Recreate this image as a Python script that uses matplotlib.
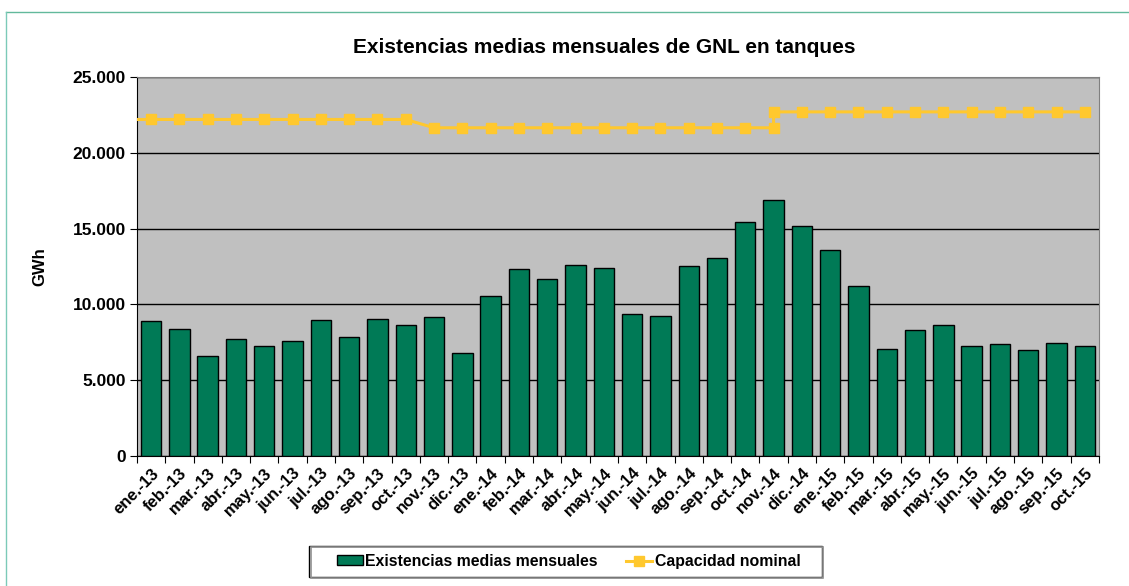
import numpy as np
import matplotlib
matplotlib.use("Agg")
import matplotlib.pyplot as plt
from matplotlib.lines import Line2D
from matplotlib.ticker import FuncFormatter, FixedLocator

plt.rcParams['font.family'] = ['Liberation Sans', 'DejaVu Sans']

# Month labels
months = ['ene.-13', 'feb.-13', 'mar.-13', 'abr.-13', 'may.-13', 'jun.-13',
          'jul.-13', 'ago.-13', 'sep.-13', 'oct.-13', 'nov.-13', 'dic.-13',
          'ene.-14', 'feb.-14', 'mar.-14', 'abr.-14', 'may.-14', 'jun.-14',
          'jul.-14', 'ago.-14', 'sep.-14', 'oct.-14', 'nov.-14', 'dic.-14',
          'ene.-15', 'feb.-15', 'mar.-15', 'abr.-15', 'may.-15', 'jun.-15',
          'jul.-15', 'ago.-15', 'sep.-15', 'oct.-15']

# Average monthly stock (GWh)
existencias = [8920, 8390, 6620, 7730, 7260, 7590, 8990, 7880, 9050, 8610,
               9200, 6800, 10560, 12320, 11700, 12590, 12430, 9340, 9230,
               12540, 13030, 15440, 16920, 15150, 13580, 11220, 7060, 8280,
               8610, 7240, 7410, 6980, 7460, 7260]

# Nominal capacity (GWh); the capacity changes within nov.-14
capacidad = [22200] * 10 + [21650] * 13 + [22700] * 11
cambio_idx = 22          # nov.-14
capacidad_nueva = 22700  # value after the change in nov.-14

fig = plt.figure(figsize=(11.29, 5.86), dpi=100)
ax = fig.add_axes([0.1213, 0.2218, 0.8521, 0.6468])
ax.set_facecolor('#c0c0c0')

x = np.arange(len(months))
bars = ax.bar(x, existencias, width=0.72, color='#007a56', edgecolor='black',
              linewidth=1, zorder=3)

# capacity line, with the extra point for the change in nov.-14
xl = list(x[:cambio_idx + 1]) + [cambio_idx] + list(x[cambio_idx + 1:])
yl = capacidad[:cambio_idx + 1] + [capacidad_nueva] + capacidad[cambio_idx + 1:]
ax.plot([-0.5, 0], [capacidad[0], capacidad[0]], color='#ffc82e', lw=2.2, zorder=4)
line, = ax.plot(xl, yl, color='#ffc82e', lw=2.2, marker='s', markersize=6.5, zorder=4)

ax.set_xlim(-0.5, len(months) - 0.5)
ax.set_ylim(0, 25000)
ax.set_yticks(range(0, 25001, 5000))
ax.yaxis.set_major_formatter(FuncFormatter(lambda v, p: f'{int(v):,}'.replace(',', '.')))
ax.yaxis.grid(True, color='black', lw=1, zorder=1)
ax.set_axisbelow(True)

# category ticks at boundaries, labels at centres
ax.xaxis.set_major_locator(FixedLocator(np.arange(-0.5, len(months), 1)))
ax.xaxis.set_major_formatter(plt.NullFormatter())
ax.xaxis.set_minor_locator(FixedLocator(x))
ax.set_xticklabels(months, minor=True, rotation=45, ha='right',
                   rotation_mode='anchor', fontsize=12, fontweight='bold')
ax.tick_params(axis='x', which='minor', length=0, pad=7)
ax.tick_params(axis='x', which='major', length=5, direction='out')
ax.tick_params(axis='y', length=5, direction='out', labelsize=12.5, pad=3)
for t in ax.get_yticklabels():
    t.set_fontweight('bold')

for s in ['top', 'right']:
    ax.spines[s].set_color('#808080')
ax.spines['left'].set_color('black')
ax.spines['bottom'].set_color('black')

ax.set_ylabel('GWh', fontsize=12, fontweight='bold', labelpad=18)
fig.text(0.535, 0.919, 'Existencias medias mensuales de GNL en tanques',
         ha='center', va='center', fontsize=15, fontweight='bold')

# legend: entries without frame, box drawn separately
bar_handle = plt.Rectangle((0, 0), 1, 1, facecolor='#007a56', edgecolor='black', lw=1)
leg = fig.legend([bar_handle, line], ['Existencias medias mensuales', 'Capacidad nominal'],
                 loc='center', bbox_to_anchor=(0.5036, 0.0418), ncol=2,
                 frameon=False, prop={'size': 11.4, 'weight': 'bold'},
                 handlelength=1.65, handleheight=0.6, handletextpad=0.15,
                 columnspacing=1.8, borderpad=0.42, borderaxespad=0)
fig.add_artist(plt.Rectangle((0.2755, 0.0136), 0.4535, 0.0537, transform=fig.transFigure,
                             fill=False, edgecolor='#909090', lw=1.2))
fig.add_artist(plt.Rectangle((0.2737, 0.0154), 0.4544, 0.0529, transform=fig.transFigure,
                             fill=True, facecolor='white', edgecolor='black', lw=1, zorder=-1))

# outer frame (top and left edges)
fig.add_artist(Line2D([0.0057, 1.0], [0.9795, 0.9795], transform=fig.transFigure,
                      color='#62b99c', lw=1))
fig.add_artist(Line2D([0.0057, 0.0057], [0.0, 0.9795], transform=fig.transFigure,
                      color='#7ccab8', lw=1))

fig.savefig('out.png', dpi=100)
